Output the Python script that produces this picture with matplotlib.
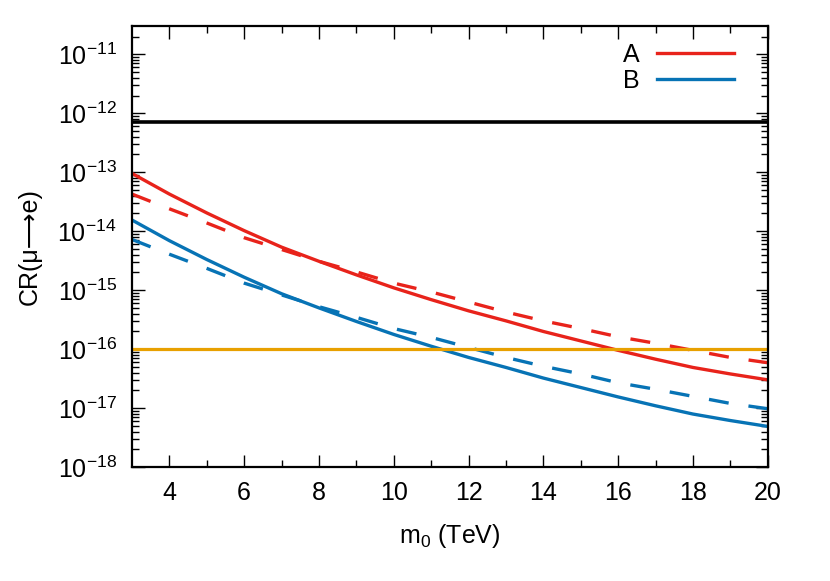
import numpy as np
import matplotlib
matplotlib.use("Agg")
import matplotlib.pyplot as plt
from matplotlib.ticker import FixedLocator, NullFormatter, FuncFormatter

plt.rcParams['font.family'] = ['Liberation Sans', 'DejaVu Sans']
plt.rcParams['mathtext.fontset'] = 'custom'
plt.rcParams['mathtext.rm'] = 'Liberation Sans'
plt.rcParams['mathtext.it'] = 'Liberation Sans'
plt.rcParams['mathtext.default'] = 'regular'

# data (log10 of CR)
m0 = [3, 4, 5, 6, 7, 8, 9, 10, 11, 12, 13, 14, 15, 16, 17, 18, 19, 20]
logA_solid = [-13.02, -13.37, -13.69, -13.99, -14.27, -14.51, -14.74, -14.96, -15.16,
              -15.35, -15.52, -15.70, -15.86, -16.02, -16.17, -16.31, -16.42, -16.52]
logA_dash = [-13.37, -13.62, -13.86, -14.11, -14.31, -14.51, -14.69, -14.88, -15.03,
             -15.20, -15.37, -15.52, -15.65, -15.79, -15.90, -16.02, -16.14, -16.23]
logB_solid = [-13.81, -14.16, -14.48, -14.78, -15.06, -15.30, -15.53, -15.75, -15.95,
              -16.14, -16.31, -16.49, -16.65, -16.81, -16.96, -17.10, -17.21, -17.31]
logB_dash = [-14.14, -14.39, -14.63, -14.88, -15.08, -15.28, -15.46, -15.65, -15.80,
             -15.97, -16.14, -16.29, -16.42, -16.57, -16.68, -16.80, -16.92, -17.01]
bound_now = 7e-13
bound_future = 1e-16
x_major = [4, 6, 8, 10, 12, 14, 16, 18, 20]
x_minor = [5, 7, 9, 11, 13, 15, 17, 19]
y_exps = [-18, -17, -16, -15, -14, -13, -12, -11]

red = '#e8231b'
blue = '#0773b5'
orange = '#e8a000'

fig = plt.figure(figsize=(8.3, 5.81), dpi=100)
ax = fig.add_axes([0.159, 0.196, 0.766, 0.759])

x = np.array(m0)
ax.plot(x, 10 ** np.array(logA_solid), color=red, lw=2.4, label='A')
ax.plot(x, 10 ** np.array(logA_dash), color=red, lw=2.4, dashes=(6, 6))
ax.plot(x, 10 ** np.array(logB_solid), color=blue, lw=2.4, label='B')
ax.plot(x, 10 ** np.array(logB_dash), color=blue, lw=2.4, dashes=(6, 6))
ax.axhline(bound_now, color='black', lw=2.6)
ax.axhline(bound_future, color=orange, lw=2.3)

ax.set_yscale('log')
ax.set_xlim(3, 20)
ax.set_ylim(1e-18, 3e-11)

ax.xaxis.set_major_locator(FixedLocator(x_major))
ax.xaxis.set_minor_locator(FixedLocator(x_minor))
ax.yaxis.set_major_locator(FixedLocator([10.0 ** e for e in y_exps]))
minors = [k * 10.0 ** e for e in y_exps for k in range(2, 10) if k * 10.0 ** e < 3e-11]
ax.yaxis.set_minor_locator(FixedLocator(minors))
ax.yaxis.set_major_formatter(FuncFormatter(lambda v, p: r'$10^{%d}$' % round(np.log10(v))))
ax.yaxis.set_minor_formatter(NullFormatter())

ax.tick_params(which='both', direction='in', top=True, right=True, labelsize=18, width=1.0)
ax.tick_params(which='major', length=9)
ax.tick_params(which='minor', length=5)
ax.tick_params(axis='x', which='major', pad=10)
ax.tick_params(axis='y', which='major', pad=11)
for s in ax.spines.values():
    s.set_linewidth(1.6)

ax.set_xlabel(r'm$_0$ (TeV)', fontsize=18, labelpad=12)
ax.set_ylabel('CR(μ⟶e)', fontsize=18, labelpad=11)

ax.legend(loc='upper right', frameon=False, fontsize=18, markerfirst=False,
          handlelength=3.1, handletextpad=0.7, labelspacing=0.08,
          bbox_to_anchor=(0.983, 1.013))

fig.savefig('out.png', dpi=100)
